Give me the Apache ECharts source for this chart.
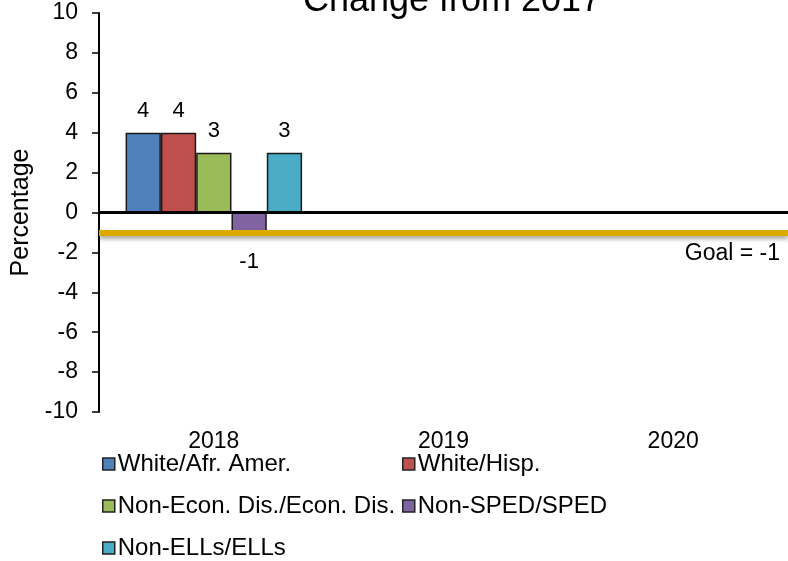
<!DOCTYPE html>
<html>
<head>
<meta charset="utf-8">
<script src="https://cdn.jsdelivr.net/npm/echarts@6/dist/echarts.min.js"></script>
<style>
html,body{margin:0;padding:0;background:#fff;}
#chart{width:788px;height:561px;}
</style>
</head>
<body>
<div id="chart"></div>
<script>
// ---- data ----
const categories = ['2018', '2019', '2020'];
const seriesNames = ['White/Afr. Amer.', 'White/Hisp.', 'Non-Econ. Dis./Econ. Dis.', 'Non-SPED/SPED', 'Non-ELLs/ELLs'];
const whiteAfrAmer = [4, null, null];
const whiteHisp = [4, null, null];
const nonEconEcon = [3, null, null];
const nonSpedSped = [-1, null, null];
const nonEllsElls = [3, null, null];
const goalValue = -1;
const goalLabel = 'Goal = -1';
const titleText = 'Change from 2017';
const yAxisName = 'Percentage';
const yTicks = { min: -10, max: 10, interval: 2 };

// ---- styles ----
const colors = ['#4F81BD', '#C0504D', '#9BBB59', '#8064A2', '#4BACC6'];
const FONT = '"Liberation Sans", Arial, sans-serif';
const seriesValues = [whiteAfrAmer, whiteHisp, nonEconEcon, nonSpedSped, nonEllsElls];

const chart = echarts.init(document.getElementById('chart'), null, { renderer: 'canvas' });

const series = seriesNames.map((name, i) => {
  const s = {
    name: name,
    type: 'bar',
    barWidth: 35.3,
    barGap: '0%',
    itemStyle: { color: colors[i], borderColor: '#1a1a1a', borderWidth: 1.5 },
    data: seriesValues[i].map(v => v === null ? null : ({
      value: v,
      label: {
        show: true,
        position: v < 0 ? 'bottom' : 'top',
        distance: v < 0 ? 18 : 11,
        color: '#000',
        fontSize: 22,
        fontFamily: FONT
      }
    }))
  };
  if (i === 0) {
    s.markLine = {
      silent: true,
      symbol: 'none',
      animation: false,
      data: [
        { yAxis: 0, lineStyle: { color: '#000', width: 3, type: 'solid' }, label: { show: false } },
        {
          yAxis: goalValue,
          lineStyle: { color: '#DDAA00', width: 6, type: 'solid', shadowColor: 'rgba(0,0,0,0.35)', shadowBlur: 4, shadowOffsetY: 3 },
          label: { show: true, formatter: goalLabel, position: 'insideEndBottom', distance: [8, 10], color: '#000', fontSize: 23, fontFamily: FONT }
        }
      ]
    };
  }
  return s;
});

const legendCommon = {
  orient: 'vertical',
  padding: 0,
  height: 150,
  itemWidth: 12,
  itemHeight: 12,
  itemGap: 18,
  icon: 'rect',
  selectedMode: false,
  itemStyle: { borderColor: '#222', borderWidth: 1.5 },
  textStyle: { color: '#000', fontSize: 24, lineHeight: 24, fontFamily: FONT, padding: [0, 0, 0, -2] }
};

chart.setOption({
  animation: false,
  textStyle: { fontFamily: FONT },
  graphic: [{
    type: 'text',
    x: 452,
    y: 1,
    style: { text: titleText, font: '36px "Liberation Sans", Arial, sans-serif', fill: '#000', textAlign: 'center', textVerticalAlign: 'middle' }
  }],
  grid: { left: 99, right: -4, top: 13, bottom: 149, containLabel: false },
  legend: [
    Object.assign({ left: 102, top: 452, data: [seriesNames[0], seriesNames[2], seriesNames[4]] }, legendCommon),
    Object.assign({ left: 402, top: 452, data: [seriesNames[1], seriesNames[3]] }, legendCommon)
  ],
  xAxis: {
    type: 'category',
    data: categories,
    axisLine: { show: false, onZero: false },
    axisTick: { show: false },
    axisLabel: { color: '#000', fontSize: 23, fontFamily: FONT, margin: 18 },
    splitLine: { show: false }
  },
  yAxis: {
    type: 'value',
    min: yTicks.min,
    max: yTicks.max,
    interval: yTicks.interval,
    name: yAxisName,
    nameLocation: 'middle',
    nameGap: 65,
    nameTextStyle: { color: '#000', fontSize: 25, fontFamily: FONT },
    axisLine: { show: true, lineStyle: { color: '#000', width: 2 } },
    axisTick: { show: true, length: 7, lineStyle: { color: '#000', width: 1.5 } },
    axisLabel: { color: '#000', fontSize: 23, fontFamily: FONT, margin: 21 },
    splitLine: { show: false }
  },
  series: series
});
</script>
</body>
</html>
